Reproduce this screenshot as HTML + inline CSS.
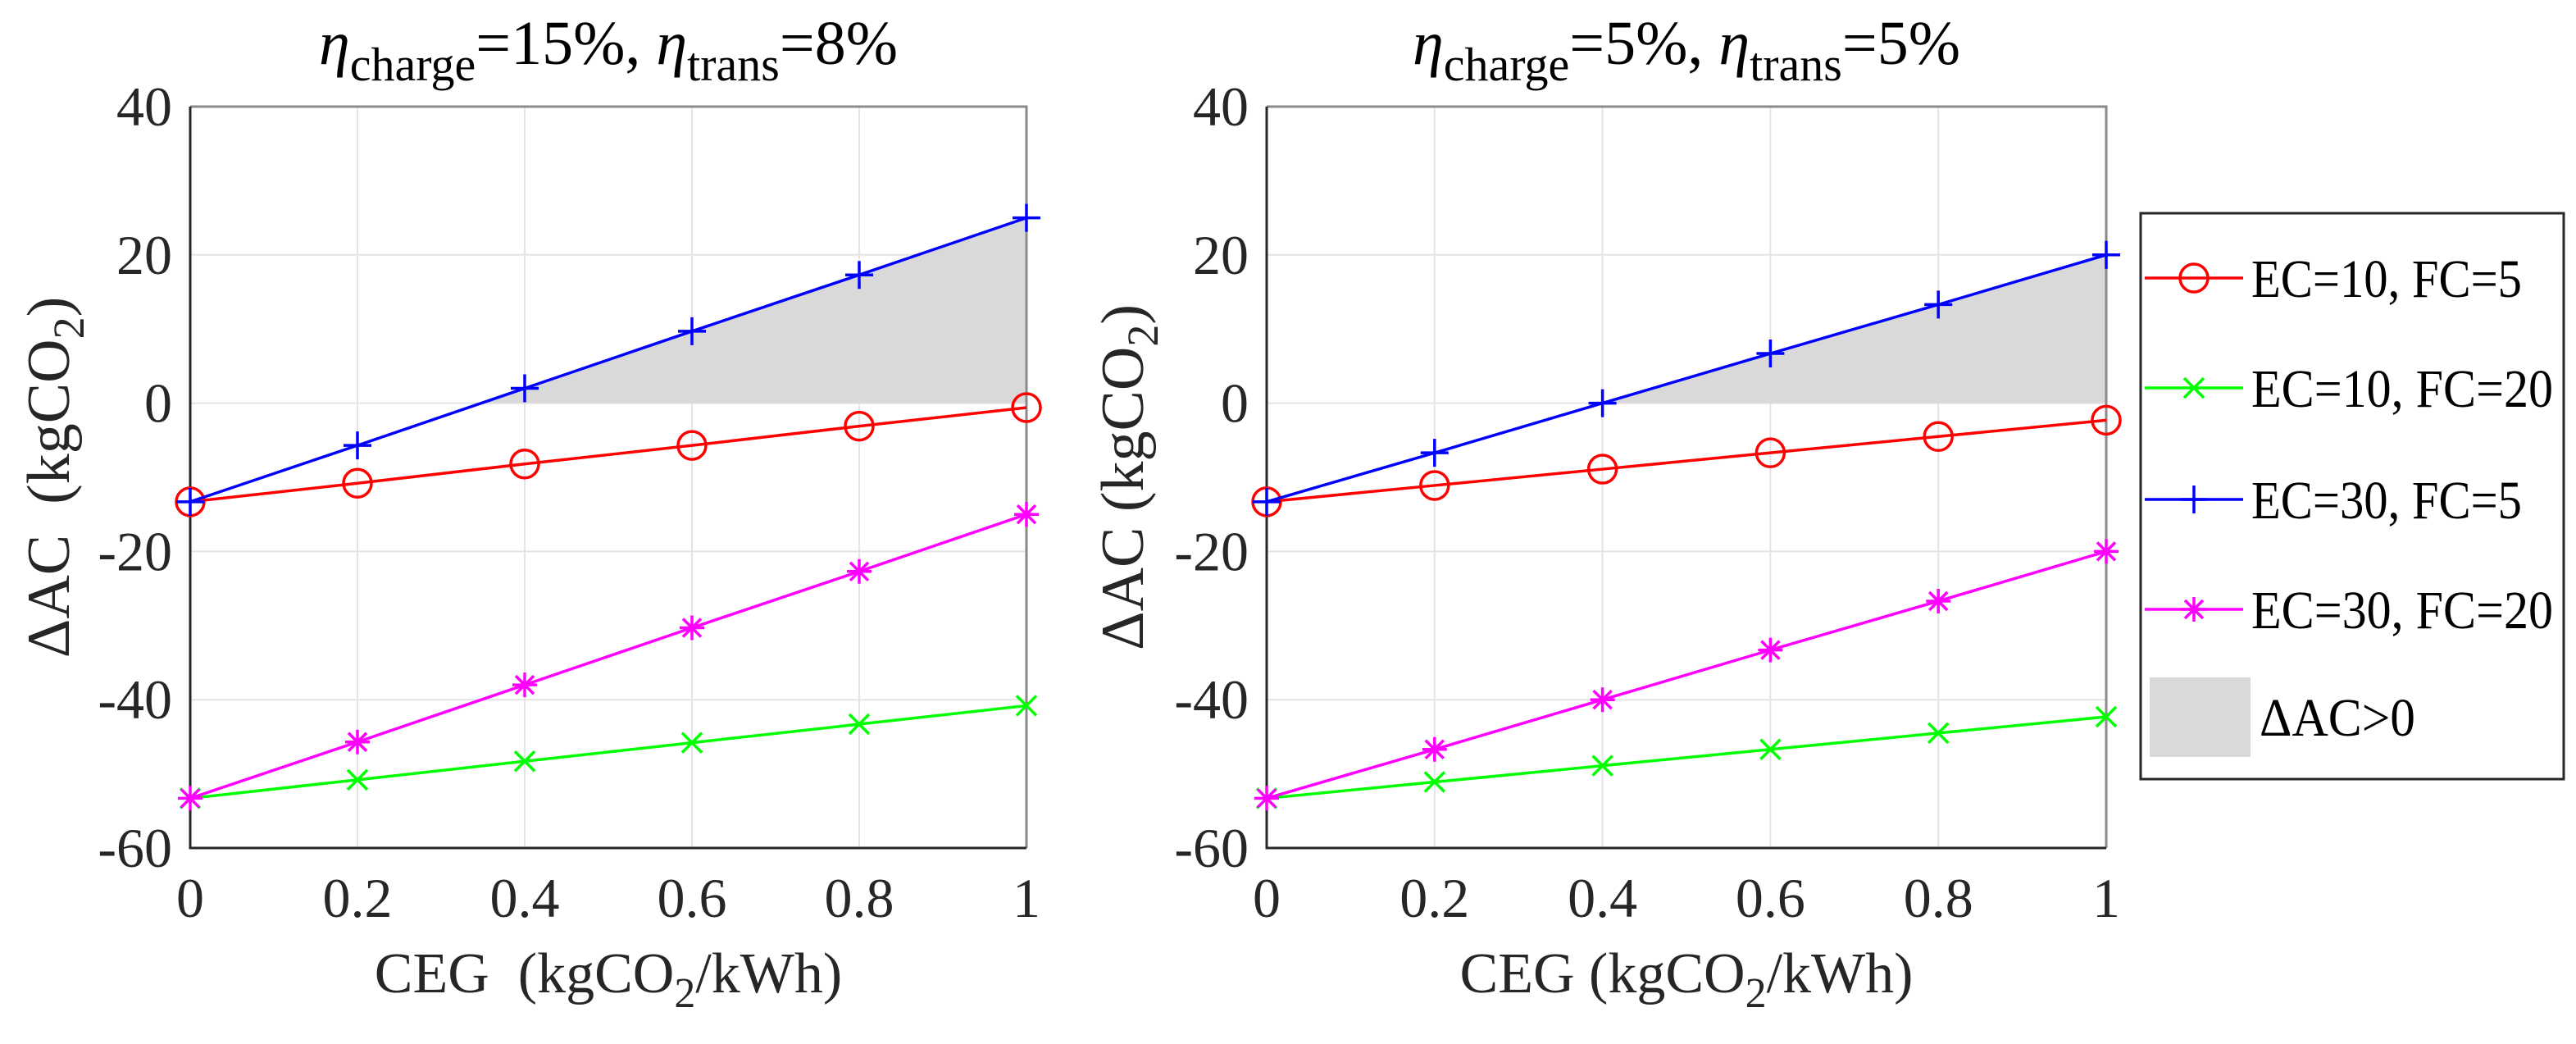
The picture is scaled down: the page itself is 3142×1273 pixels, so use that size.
<!DOCTYPE html>
<html><head><meta charset="utf-8"><style>
html,body{margin:0;padding:0;background:#fff;}
svg, svg text{font-family:"Liberation Serif","DejaVu Serif",serif;}
svg{display:block;}
</style></head><body>
<svg id="chart" width="3142" height="1273" xmlns="http://www.w3.org/2000/svg" font-family="Liberation Serif, DejaVu Serif, serif"></svg>
<script>
const xCats = [0, 0.2, 0.4, 0.6, 0.8, 1];
const xTickLabels = ["0","0.2","0.4","0.6","0.8","1"];
const yTicks = [40, 20, 0, -20, -40, -60];
const yTickLabels = ["40","20","0","-20","-40","-60"];
const seriesNames = ["EC=10, FC=5","EC=10, FC=20","EC=30, FC=5","EC=30, FC=20"];
const leftRed = [-13.3, -10.8, -8.2, -5.7, -3.1, -0.6];
const leftGreen = [-53.3, -50.8, -48.3, -45.8, -43.3, -40.8];
const leftBlue = [-13.3, -5.7, 2.0, 9.7, 17.3, 25.0];
const leftMagenta = [-53.3, -45.7, -38.0, -30.3, -22.7, -15.0];
const rightRed = [-13.3, -11.1, -8.9, -6.7, -4.5, -2.3];
const rightGreen = [-53.3, -51.1, -48.9, -46.7, -44.5, -42.3];
const rightBlue = [-13.3, -6.7, 0.0, 6.7, 13.3, 20.0];
const rightMagenta = [-53.3, -46.7, -40.0, -33.3, -26.7, -20.0];

const NS = "http://www.w3.org/2000/svg";
const svg = document.getElementById("chart");
const FF = "Liberation Serif, DejaVu Serif, serif";
function mk(tag, attrs, parent){
  const e = document.createElementNS(NS, tag);
  for (const k in attrs) e.setAttribute(k, attrs[k]);
  if (tag === "text") e.setAttribute("font-family", FF);
  (parent||svg).appendChild(e);
  return e;
}
const colors = ["#ff0000","#00ff00","#0000ff","#ff00ff"];
const markers = ["circle","x","plus","star"];

function drawMarker(g, type, cx, cy, color){
  let m;
  if (type==="circle"){
    m = mk("circle",{cx:cx,cy:cy,r:17,fill:"none",stroke:color,"stroke-width":3.5},g);
  } else if (type==="x"){
    m = mk("path",{d:`M${cx-12},${cy-12}L${cx+12},${cy+12}M${cx-12},${cy+12}L${cx+12},${cy-12}`,stroke:color,"stroke-width":3.5,fill:"none"},g);
  } else if (type==="plus"){
    m = mk("path",{d:`M${cx-17},${cy}L${cx+17},${cy}M${cx},${cy-17}L${cx},${cy+17}`,stroke:color,"stroke-width":3.5,fill:"none"},g);
  } else {
    m = mk("path",{d:`M${cx-15},${cy}L${cx+15},${cy}M${cx},${cy-15}L${cx},${cy+15}M${cx-11},${cy-11}L${cx+11},${cy+11}M${cx-11},${cy+11}L${cx+11},${cy-11}`,stroke:color,"stroke-width":3.5,fill:"none"},g);
  }
  return m;
}

function panel(id, x0, x1, title1, title2, ylabX, ylabSpaced, series){
  const y0 = 130, y1 = 1034;
  const X = v => x0 + (v - 0) / (1 - 0) * (x1 - x0);
  const Y = v => y0 + (40 - v) / 100 * (y1 - y0);
  const g = mk("g",{});
  
  
  xCats.forEach(v=>{ mk("line",{x1:X(v),x2:X(v),y1:y0,y2:y1,stroke:"#e4e4e4","stroke-width":2},g); });
  yTicks.forEach(v=>{ mk("line",{x1:x0,x2:x1,y1:Y(v),y2:Y(v),stroke:"#e4e4e4","stroke-width":2},g); });
  const blue = series[2];
  let pts = [];
  for (let i=0;i<xCats.length-1;i++){
    const a=blue[i], b=blue[i+1];
    if (a<=0 && b>0){ const t = (0-a)/(b-a); pts.push([xCats[i]+t*(xCats[i+1]-xCats[i]),0]); }
    if (a>0 && i===0) pts.push([xCats[0],0]), pts.push([xCats[0],a]);
    if (b>0) pts.push([xCats[i+1],b]);
  }
  if (pts.length){
    pts.push([xCats[xCats.length-1],0]);
    const area = mk("polygon",{points:pts.map(p=>X(p[0])+","+Y(p[1])).join(" "),fill:"#d9d9d9"},g);
    
    
  }
  mk("path",{d:`M${x0},${y0}L${x1},${y0}L${x1},${y1}`,stroke:"#8a8a8a","stroke-width":3,fill:"none"},g);
  mk("path",{d:`M${x0},${y0}L${x0},${y1}L${x1},${y1}`,stroke:"#262626","stroke-width":3,fill:"none"},g);
  xCats.forEach((v,i)=>{
    const t = mk("text",{x:X(v),y:1118,"text-anchor":"middle","font-size":68,fill:"#262626"},g);
    t.textContent = xTickLabels[i];
    
    
  });
  yTicks.forEach((v,i)=>{
    const t = mk("text",{x:x0-22,y:Y(v)+23,"text-anchor":"end","font-size":68,fill:"#262626"},g);
    t.textContent = yTickLabels[i];
    
    
  });
  series.forEach((arr,si)=>{
    const sg = mk("g",{},g);
    
    
    mk("polyline",{points:arr.map((v,i)=>X(xCats[i])+","+Y(v)).join(" "),fill:"none",stroke:colors[si],"stroke-width":3.5},sg);
    arr.forEach((v,i)=>{
      const m = drawMarker(sg, markers[si], X(xCats[i]), Y(v), colors[si]);
      
      
    });
  });
  const cx = (x0+x1)/2;
  const tt = mk("text",{x:cx,y:78,"text-anchor":"middle","font-size":76,fill:"#000"},g);
  
  
  tt.innerHTML = `<tspan font-style="italic">η</tspan><tspan font-size="58" dy="20">charge</tspan><tspan dy="-20">${title1}, </tspan><tspan font-style="italic">η</tspan><tspan font-size="58" dy="20">trans</tspan><tspan dy="-20">${title2}</tspan>`;
  const xl = mk("text",{x:cx,y:1210,"text-anchor":"middle","font-size":70,fill:"#262626"},g);
  
  
  xl.innerHTML = `CEG ${ylabSpaced?"\u00a0":""}(kgCO<tspan font-size="52" dy="18">2</tspan><tspan dy="-18">/kWh)</tspan>`;
  const yl = mk("text",{x:0,y:0,"text-anchor":"middle","font-size":74,fill:"#262626",transform:`translate(${ylabX},${(y0+y1)/2}) rotate(-90)`},g);
  
  
  yl.innerHTML = `ΔAC ${ylabSpaced?"\u00a0":""}(kgCO<tspan font-size="54" dy="18">2</tspan><tspan dy="-18">)</tspan>`;
}

panel("left-panel", 232, 1252, "=15%", "=8%", 84, true, [leftRed, leftGreen, leftBlue, leftMagenta]);
panel("right-panel", 1545, 2569, "=5%", "=5%", 1394, false, [rightRed, rightGreen, rightBlue, rightMagenta]);

const lg = mk("g",{});


mk("rect",{x:2611,y:260,width:516,height:690,fill:"#fff",stroke:"#262626","stroke-width":3},lg);
const legY = [339, 473, 609, 743];
const legW = [330, 368, 330, 368];
seriesNames.forEach((n,i)=>{
  const e = mk("g",{},lg);
  
  
  mk("line",{x1:2616,x2:2736,y1:legY[i],y2:legY[i],stroke:colors[i],"stroke-width":3.5},e);
  drawMarker(e, markers[i], 2676, legY[i], colors[i]);
  const t = mk("text",{x:2746,y:legY[i]+23,"font-size":66,fill:"#000",textLength:legW[i],lengthAdjust:"spacingAndGlyphs"},e);
  t.textContent = n;
});
const ae = mk("g",{},lg);


mk("rect",{x:2622,y:826,width:123,height:97,fill:"#d9d9d9"},ae);
const at = mk("text",{x:2756,y:897,"font-size":66,fill:"#000",textLength:190,lengthAdjust:"spacingAndGlyphs"},ae);
at.textContent = "ΔAC>0";
</script>
</body></html>
